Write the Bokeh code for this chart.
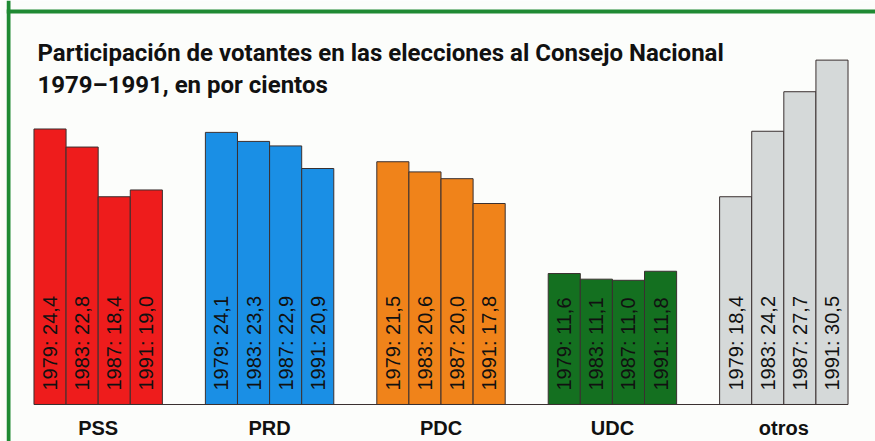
import math
from bokeh.plotting import figure
from bokeh.models import FactorRange, Range1d, Label, ColumnDataSource, Span
from bokeh.core.properties import value
from bokeh.embed import file_html
from bokeh.resources import INLINE

# ---- data ----
parties = ["PSS", "PRD", "PDC", "UDC", "otros"]
years = ["1979", "1983", "1987", "1991"]
pss = [24.4, 22.8, 18.4, 19.0]
prd = [24.1, 23.3, 22.9, 20.9]
pdc = [21.5, 20.6, 20.0, 17.8]
udc = [11.6, 11.1, 11.0, 11.8]
otros = [18.4, 24.2, 27.7, 30.5]
party_colors = ["#ee1c1c", "#1a8fe5", "#f0831a", "#147020", "#d5d9d9"]
title_line1 = "Participación de votantes en las elecciones al Consejo Nacional"
title_line2 = "1979–1991, en por cientos"

series = [pss, prd, pdc, udc, otros]

xs, tops, colors, labels = [], [], [], []
for party, vals, col in zip(parties, series, party_colors):
    for yr, v in zip(years, vals):
        xs.append((party, yr))
        tops.append(v)
        colors.append(col)
        labels.append(f"{yr}: {v:.1f}".replace(".", ","))

src = ColumnDataSource(dict(x=xs, top=tops, color=colors, label=labels))

BG = "#fcfdfb"
GREEN = "#1f8a33"
W, H = 875, 441

x_range = FactorRange(*xs, factor_padding=0.0, group_padding=1.34,
                      range_padding=0.856, range_padding_units="absolute")
y_range = Range1d(-3.277, 35.78)

p = figure(width=W, height=H, x_range=x_range, y_range=y_range,
           output_backend="svg", toolbar_location=None,
           min_border_left=6, min_border_top=0, min_border_right=0, min_border_bottom=0)
p.axis.visible = False
p.grid.visible = False
p.outline_line_color = None
p.border_fill_color = BG
p.background_fill_color = BG

# green frame (left and top edges of the box)
p.add_layout(Span(location=2, location_units="screen", dimension="height",
                  line_color=GREEN, line_width=4))
p.add_layout(Span(location=H - 11, location_units="screen", dimension="width",
                  line_color=GREEN, line_width=4))

p.vbar(x="x", top="top", bottom=0, width=1.0, source=src,
       fill_color="color", line_color="#3a3030", line_width=1)

# baseline
p.segment(x0=[(parties[0], years[0], -0.5)], y0=[0],
          x1=[(parties[-1], years[-1], 0.5)], y1=[0],
          line_color="#3a3030", line_width=1.2)

# rotated value labels inside bars
p.text(x="x", y=0, text="label", source=src, angle=math.pi / 2,
       text_align="left", text_baseline="middle", y_offset=-14,
       text_font=value("Liberation Sans"), text_font_size="20px",
       text_color="#111111")

# category labels
p.text(x=parties, y=[0] * len(parties), text=parties,
       text_align="center", text_baseline="alphabetic", y_offset=24,
       text_font=value("Liberation Sans"), text_font_style="bold",
       text_font_size="20px", text_color="#111111")

# title
for txt, yy in [(title_line1, H - 52), (title_line2, H - 84)]:
    p.add_layout(Label(x=31, y=yy, x_units="screen", y_units="screen", text=txt,
                       text_font="Roboto", text_font_style="bold",
                       text_font_size="24px", text_color="#111111",
                       text_baseline="alphabetic"))

open("out.html", "w").write(file_html(p, INLINE))
